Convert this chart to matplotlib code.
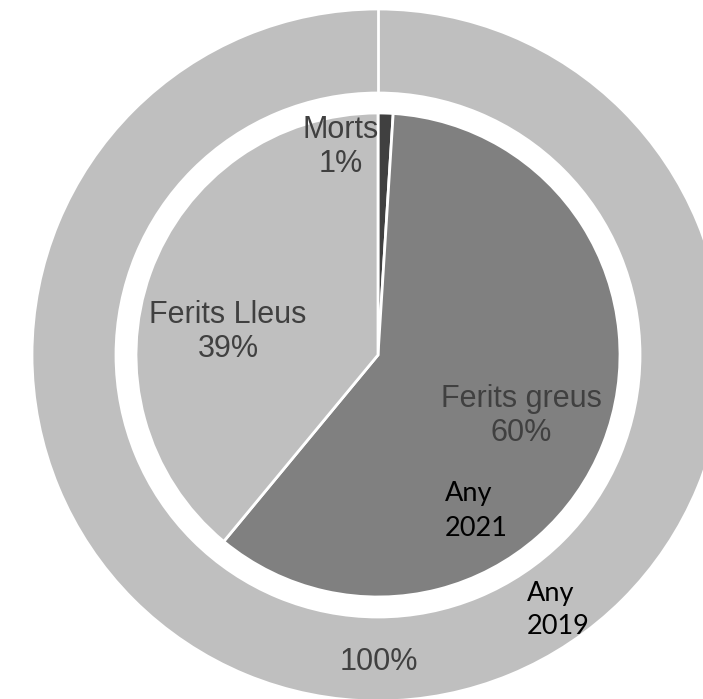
import numpy as np
import matplotlib.pyplot as plt

# inner ring (Any 2021)
categories = ["Morts", "Ferits greus", "Ferits Lleus"]
shares_2021 = [1, 60, 39]
colors_2021 = ["#404040", "#808080", "#BFBFBF"]

# outer ring (Any 2019)
shares_2019 = [100]
colors_2019 = ["#BFBFBF"]

# geometry in pixels
W, H = 703, 699
cx, cy = 378, 355
r_px = 346

fig = plt.figure(figsize=(W / 100, H / 100), dpi=100)
ax = fig.add_axes([0, 0, 1, 1])

r_outer = 1.0
ring_w = (346 - 262) / r_px
r_inner = 242 / r_px

ax.pie(shares_2019, radius=r_outer, colors=colors_2019, startangle=90,
       counterclock=False, wedgeprops=dict(width=ring_w, edgecolor="white", linewidth=2))
ax.pie(shares_2021, radius=r_inner, colors=colors_2021, startangle=90,
       counterclock=False, wedgeprops=dict(edgecolor="white", linewidth=2))

# separator at the start of the single outer slice
ang = np.deg2rad(90)
ax.plot([np.cos(ang) * (r_outer - ring_w), np.cos(ang) * r_outer],
        [np.sin(ang) * (r_outer - ring_w), np.sin(ang) * r_outer],
        color="white", lw=2, solid_capstyle="butt")

# pixel -> data helper for label placement
def px(x, y):
    return (x - cx) / r_px, (cy - y) / r_px

txt = dict(color="#404040", fontsize=22, family="Liberation Sans",
           ha="center", va="center", linespacing=1.2)
labels = ["%s\n%d%%" % (c, v) for c, v in zip(categories, shares_2021)]
ax.text(*px(341, 147), labels[0], **txt)
ax.text(*px(521, 416), labels[1], **txt)
ax.text(*px(228, 332), labels[2], **txt)
ax.text(*px(379, 662), "%d%%" % shares_2019[0], **txt)

yr = dict(color="black", fontsize=19.5, family="Lato", ha="left", va="center",
          linespacing=1.45)
ax.text(*px(445, 511), "Any\n2021", **yr)
ax.text(*px(527, 610), "Any\n2019", **yr)

ax.set_xlim(-cx / r_px, (W - cx) / r_px)
ax.set_ylim(-(H - cy) / r_px, cy / r_px)
ax.set_aspect("auto")
ax.axis("off")

plt.savefig("out.png", dpi=100)
